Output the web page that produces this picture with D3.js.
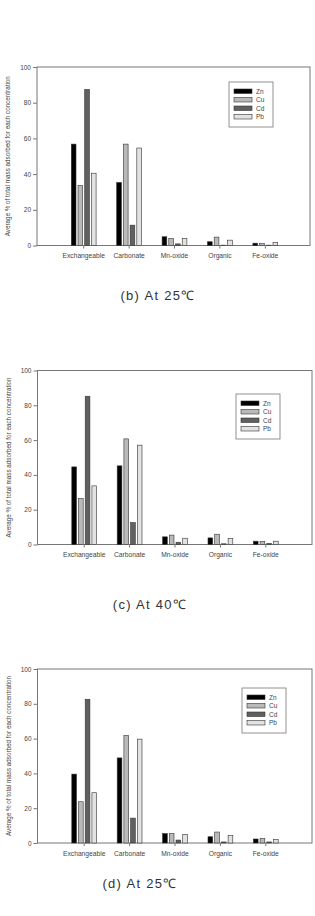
<!DOCTYPE html>
<html lang="en">
<head>
<meta charset="utf-8">
<title>Average % of total mass adsorbed</title>
<script src="https://d3js.org/d3.v7.min.js"></script>
<style>
  body { margin: 0; background: #fff; }
  svg text { font-family: "Liberation Sans", Arial, sans-serif; fill: #444; }
  .caption { font-size: 13px; fill: #333; letter-spacing: 1.3px; }
</style>
</head>
<body>
<div id="chart"></div>
<script>
"use strict"

var categories = ["Exchangeable", "Carbonate", "Mn-oxide", "Organic", "Fe-oxide"];
var metals = ["Zn", "Cu", "Cd", "Pb"];
var yTicks = [0, 20, 40, 60, 80, 100];

// (b) At 25
var znB = [56.8, 35.3, 4.9, 2.1, 1.3];
var cuB = [33.6, 56.8, 3.9, 4.7, 1.1];
var cdB = [87.4, 11.4, 0.9, 0.2, 0.2];
var pbB = [40.5, 54.6, 3.9, 3.0, 1.7];

// (c) At 40
var znC = [44.6, 45.2, 4.4, 3.8, 1.9];
var cuC = [26.4, 60.7, 5.4, 5.9, 1.7];
var cdC = [85.2, 12.6, 1.3, 0.4, 0.6];
var pbC = [33.7, 57.1, 3.6, 3.4, 1.9];

// (d) At 25
var znD = [39.6, 48.9, 5.4, 3.6, 2.3];
var cuD = [23.7, 61.8, 5.4, 6.3, 2.5];
var cdD = [82.6, 14.3, 1.7, 0.6, 0.6];
var pbD = [28.9, 59.7, 5.0, 4.2, 2.1];

var fills = {Zn: "#000000", Cu: "#b9b9b9", Cd: "#606060", Pb: "#e2e2e2"};
var yTitle = "Average % of total mass adsorbed for each concentration";

var svg = d3.select("#chart").append("svg")
  .attr("width", 315).attr("height", 916);

function desenha(cfg) {
  var rows = [];
  categories.forEach(function(c, i) {
    cfg.series.forEach(function(s, j) {
      rows.push({cat: c, metal: metals[j], value: s[i]});
    });
  });

  var g = svg.append("g");

  var y = d3.scaleLinear().domain([0, 100]).range([cfg.bottom, cfg.top]);
  var x = d3.scaleBand().domain(categories).range([cfg.left + 24, cfg.left + 251]);
  var xm = d3.scaleBand().domain(metals)
    .range([x.bandwidth() / 2 - 12.4, x.bandwidth() / 2 + 12.4])
    .paddingInner(0.3);

  // frame
  g.append("rect")
    .attr("x", cfg.left).attr("y", cfg.top)
    .attr("width", cfg.right - cfg.left).attr("height", cfg.bottom - cfg.top)
    .attr("fill", "none").attr("stroke", "#777").attr("stroke-width", 1);

  // y axis
  var ya = g.append("g")
    .attr("transform", "translate(" + cfg.left + ",0)")
    .call(d3.axisLeft(y).tickValues(yTicks).tickSize(4).tickPadding(2));
  ya.select(".domain").remove();
  ya.selectAll("line").attr("stroke", "#777");
  ya.selectAll("text").style("font-size", "6.5px").attr("fill", "#444");

  // x axis
  var xa = g.append("g")
    .attr("transform", "translate(0," + cfg.bottom + ")")
    .call(d3.axisBottom(x).tickSize(3).tickPadding(5));
  xa.select(".domain").remove();
  xa.selectAll("line").attr("stroke", "#777");
  xa.selectAll("text").style("font-size", "6.7px").attr("fill", "#444");

  // bars
  g.selectAll("rect.bar").data(rows).enter().append("rect")
    .attr("class", "bar")
    .attr("x", function(d) { return x(d.cat) + xm(d.metal); })
    .attr("y", function(d) { return y(d.value); })
    .attr("width", xm.bandwidth())
    .attr("height", function(d) { return y(0) - y(d.value); })
    .attr("fill", function(d) { return fills[d.metal]; })
    .attr("stroke", "#333").attr("stroke-width", 0.6);

  // y title
  g.append("text")
    .attr("transform", "translate(" + (cfg.left - 29) + "," + ((cfg.top + cfg.bottom) / 2) + ") rotate(-90)")
    .attr("text-anchor", "middle")
    .attr("dy", "0.35em")
    .style("font-size", "6.3px")
    .text(yTitle);

  // legend
  var lg = g.append("g").attr("transform", "translate(" + cfg.legend[0] + "," + cfg.legend[1] + ")");
  lg.append("rect").attr("width", 44).attr("height", 45)
    .attr("fill", "#fff").attr("stroke", "#777").attr("stroke-width", 0.8);
  metals.forEach(function(m, i) {
    lg.append("rect")
      .attr("x", 5).attr("y", 7 + i * 8.5)
      .attr("width", 18).attr("height", 4.5)
      .attr("fill", fills[m]).attr("stroke", "#333").attr("stroke-width", 0.6);
    lg.append("text")
      .attr("x", 27).attr("y", 9.5 + i * 8.5)
      .attr("dy", "0.35em")
      .style("font-size", "6.5px")
      .text(m);
  });

  // caption
  g.append("text")
    .attr("class", "caption")
    .attr("x", cfg.caption[0]).attr("y", cfg.caption[1])
    .attr("text-anchor", "middle")
    .text(cfg.label);
}

desenha({series: [znB, cuB, cdB, pbB], top: 67, bottom: 245.5, left: 37, right: 310,
         legend: [229, 82], caption: [158, 300], label: "(b) At 25\u2103"});
desenha({series: [znC, cuC, cdC, pbC], top: 370.5, bottom: 544.5, left: 37.5, right: 312,
         legend: [236, 394], caption: [150, 609], label: "(c) At 40\u2103"});
desenha({series: [znD, cuD, cdD, pbD], top: 669, bottom: 843, left: 37.5, right: 312,
         legend: [242, 688], caption: [140, 888], label: "(d) At 25\u2103"});
</script>
</body>
</html>
